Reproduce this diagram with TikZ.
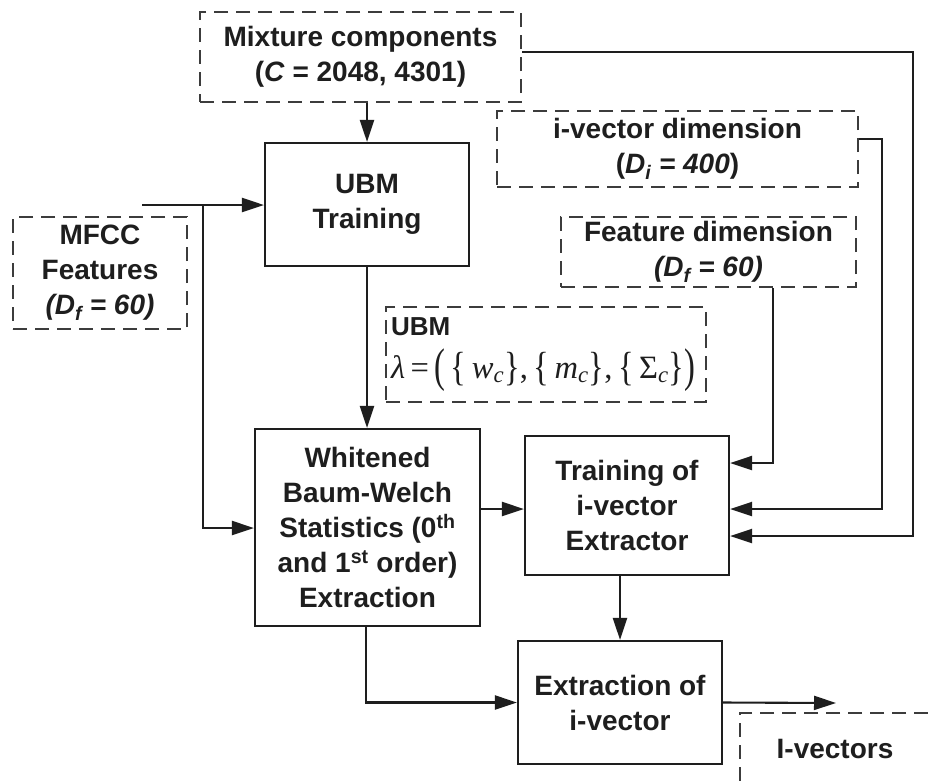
\documentclass[tikz,border=0pt]{standalone}
\usepackage{fontspec}
\usepackage{graphicx}
\setmainfont{Liberation Sans}
\newfontfamily\formfont{Liberation Serif}
\usetikzlibrary{arrows.meta}
\definecolor{ink}{HTML}{1E1E1E}
\definecolor{dashgray}{HTML}{3C3C3C}
% stretched delimiters for the UBM parameter formula
\newcommand{\tallp}[1]{\raisebox{-0.11em}{\scalebox{1}[1.45]{#1}}}
\newcommand{\tallb}[1]{\raisebox{-0.06em}{\scalebox{1}[1.25]{#1}}}
\begin{document}
\begin{tikzpicture}[x=1pt,y=1pt,
  txt/.style={font=\fontsize{28}{35}\selectfont\bfseries, text=ink, align=center, inner sep=0pt},
  solidbox/.style={txt, draw=ink, line width=2.2pt},
  dashbox/.style={txt, draw=dashgray, line width=2.4pt, dash pattern=on 14pt off 8pt},
  arr/.style={draw=ink, line width=2.1pt, -{Triangle[length=22pt,width=14pt]}}]
\fill[white] (0,0) rectangle (928,-782);
\useasboundingbox (0,0) rectangle (928,-782);

% parameter boxes (dashed)
\node[dashbox, minimum width=321pt, minimum height=90pt] (mix) at (360.5,-57)
  {Mixture components\\(\textit{C} = 2048, 4301)};
\node[dashbox, minimum width=361pt, minimum height=76pt] (idim) at (677.5,-149)
  {i-vector dimension\\(\textit{D\textsubscript{i} = 400})};
\node[dashbox, minimum width=295pt, minimum height=70pt] (fdim) at (708.5,-252)
  {Feature dimension\\\textit{(D\textsubscript{f} = 60)}};
\node[dashbox, minimum width=174pt, minimum height=112pt] (mfcc) at (100,-273)
  {MFCC\\Features\\\textit{(D\textsubscript{f} = 60)}};
\node[dashbox, minimum width=320pt, minimum height=95pt, align=left, anchor=north west,
      inner xsep=5pt, inner ysep=4pt, text width=310pt] (ubmp) at (385,-306)
  {\fontsize{26}{30}\selectfont UBM\\[8pt]
   \resizebox{304pt}{!}{\formfont\mdseries\fontsize{28}{30}\selectfont
     \textit{λ}\,=\,\tallp{(}\,\tallb{\{}\,\textit{w}\textsubscript{\textit{c}}\tallb{\}},\,%
     \tallb{\{}\,\textit{m}\textsubscript{\textit{c}}\tallb{\}},\,%
     \tallb{\{}\,Σ\textsubscript{\textit{c}}\tallb{\}}\tallp{)}}};
\node[dashbox, minimum width=190pt, minimum height=72pt] (ivec) at (835,-749)
  {I-vectors};

% processing blocks (solid)
\node[solidbox, minimum width=204pt, minimum height=123pt] (ubm) at (367,-204.5)
  {UBM\\Training};
\node[solidbox, minimum width=225pt, minimum height=197pt] (white) at (367.5,-527.5)
  {Whitened\\Baum-Welch\\Statistics (0\textsuperscript{th}\\and 1\textsuperscript{st} order)\\Extraction};
\node[solidbox, minimum width=204pt, minimum height=139pt] (train) at (627,-505.5)
  {Training of\\i-vector\\Extractor};
\node[solidbox, minimum width=204pt, minimum height=123pt] (extr) at (620,-702.5)
  {Extraction of\\i-vector};

% routing points
\coordinate (feed) at (142,-205);
\coordinate (jn)   at (203,-205);
\coordinate (m1)   at (913,-52);
\coordinate (i1)   at (882,-139);
\coordinate (f1)   at (773,-287);
\coordinate (out)  at (836,-703);

% connectors
\draw[arr] (mix.south -| ubm.north) -- (ubm.north);
\draw[arr] (feed) -- (ubm.west |- feed);
\draw[arr] (jn) |- (white.west |- 0,-528);
\draw[arr] (ubm.south) -- (white.north -| ubm.south);
\draw[arr] (white.east |- 0,-509) -- (train.west |- 0,-509);
\draw[arr] (mix.east |- m1) -- (m1) |- (train.east |- 0,-536);
\draw[arr] (idim.east |- i1) -- (i1) |- (train.east |- 0,-509);
\draw[arr] (fdim.south -| f1) |- (train.east |- 0,-463);
\draw[arr] (train.south -| extr.north) -- (extr.north);
\draw[arr] (white.south -| 366,0) |- (extr.west);
\draw[arr] (extr.east) -- (out);
\end{tikzpicture}
\end{document}
